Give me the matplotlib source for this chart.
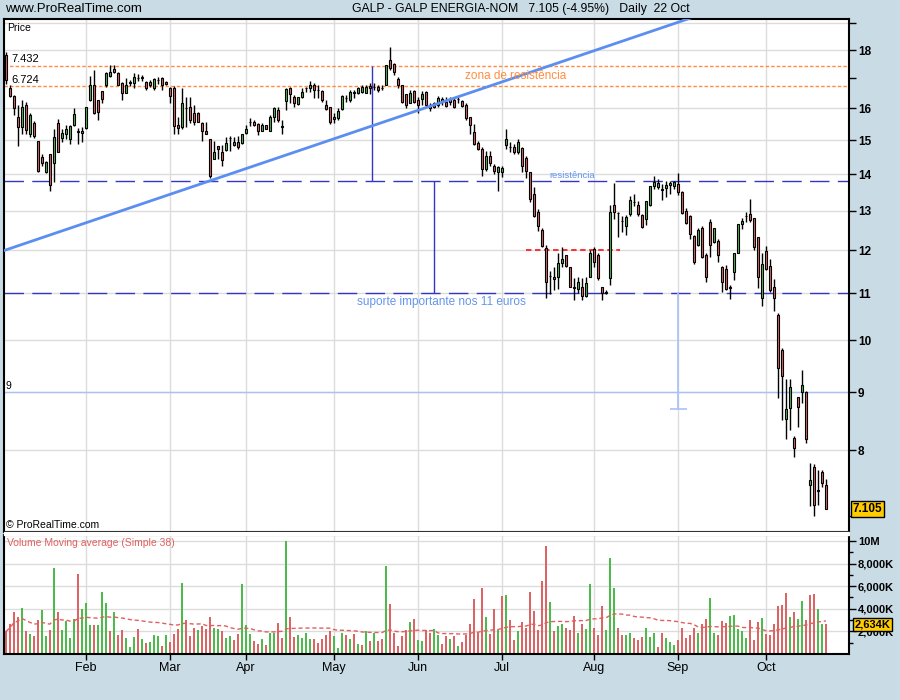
import matplotlib
matplotlib.use('Agg')
import matplotlib.pyplot as plt
import matplotlib.transforms as mtransforms
from matplotlib.ticker import NullLocator, NullFormatter
from matplotlib.patches import Rectangle
import numpy as np
import pandas as pd

plt.rcParams['font.family'] = ['Liberation Sans', 'DejaVu Sans']

# GALP - sessoes de 4 Jan a 22 Out 2008 (Euronext Lisboa)
dias = pd.bdate_range('2008-01-04', '2008-10-22', freq='C',
                      holidays=['2008-03-21', '2008-03-24', '2008-05-01'])

abertura = [
    17.82, 16.67, 16.40, 15.73, 15.39, 16.10, 15.18, 15.54, 14.97, 14.50,
    14.06, 14.58, 14.32, 15.54, 15.06, 15.18, 15.03, 15.48, 15.27, 15.21,
    15.36, 16.27, 16.77, 16.27, 16.57, 16.77, 17.07, 17.32, 17.18, 16.84,
    16.50, 16.84, 16.84, 17.01, 17.02, 16.87, 16.77, 16.67, 16.94, 17.01,
    16.87, 16.67, 16.67, 15.48, 15.39, 16.00, 16.04, 15.85, 15.85, 15.54,
    15.27, 15.03, 14.44, 14.82, 14.64, 14.70, 15.05, 14.85, 14.94, 14.91,
    15.21, 15.56, 15.57, 15.51, 15.27, 15.48, 15.27, 15.73, 15.95, 15.41,
    16.24, 16.67, 16.37, 16.14, 16.37, 16.66, 16.67, 16.77, 16.61, 16.57,
    16.11, 16.04, 15.73, 15.69, 15.98, 16.34, 16.27, 16.50, 16.50, 16.54,
    16.50, 16.74, 16.70, 16.70, 16.68, 16.77, 17.64, 17.50, 16.97, 16.77,
    16.47, 16.17, 16.57, 16.27, 16.31, 16.54, 16.11, 16.17, 16.11, 16.31,
    16.21, 16.31, 16.27, 16.30, 16.24, 16.11, 15.73, 15.24, 14.91, 14.73,
    14.15, 14.52, 14.23, 14.06, 14.07, 14.85, 14.79, 14.79, 14.64, 14.76,
    14.47, 14.06, 13.45, 12.96, 12.50, 12.05, 11.40, 11.37, 11.37, 11.69,
    11.88, 11.60, 11.13, 11.10, 11.14, 10.94, 11.37, 12.03, 11.88, 11.14,
    11.02, 11.35, 13.15, 12.94, 12.74, 12.60, 12.91, 13.23, 13.15, 12.88,
    12.78, 13.15, 13.67, 13.64, 13.58, 13.61, 13.69, 13.67, 13.72, 13.50,
    12.99, 12.86, 12.35, 12.13, 12.55, 11.88, 12.70, 12.20, 12.23, 11.60,
    11.55, 11.13, 11.48, 11.93, 12.65, 12.85, 12.91, 12.80, 12.32, 10.90,
    11.98, 11.62, 11.14, 10.52, 9.80, 8.53, 8.71, 8.21, 8.91, 9.00,
    9.00, 7.46, 7.74, 7.38, 7.65, 7.45]

maximo = [
    17.92, 16.77, 16.44, 16.11, 16.27, 16.20, 15.85, 15.60, 14.97, 14.58,
    14.38, 14.58, 15.33, 15.66, 15.33, 15.45, 15.45, 16.01, 15.36, 15.39,
    16.04, 17.07, 17.28, 16.27, 16.57, 17.21, 17.46, 17.46, 17.21, 16.87,
    17.01, 16.94, 17.18, 17.14, 17.11, 16.90, 16.94, 17.01, 17.04, 17.04,
    16.90, 16.70, 16.74, 15.73, 16.67, 16.37, 16.37, 16.11, 15.88, 15.57,
    15.57, 15.03, 14.97, 14.82, 14.85, 15.09, 15.12, 15.09, 15.12, 15.18,
    15.45, 15.69, 15.63, 15.54, 15.54, 15.48, 15.79, 16.04, 16.04, 15.63,
    16.67, 16.70, 16.44, 16.37, 16.67, 16.70, 16.90, 16.84, 16.77, 16.60,
    16.27, 16.04, 15.85, 16.01, 16.44, 16.44, 16.60, 16.60, 16.70, 16.77,
    16.77, 16.84, 16.84, 16.77, 16.77, 17.46, 18.11, 17.53, 17.04, 16.77,
    16.47, 16.60, 16.60, 16.37, 16.57, 16.57, 16.17, 16.21, 16.40, 16.37,
    16.37, 16.37, 16.34, 16.37, 16.27, 16.17, 15.73, 15.51, 14.97, 14.79,
    14.67, 14.67, 14.29, 14.23, 14.23, 15.33, 14.94, 14.88, 15.03, 14.79,
    14.52, 14.06, 13.64, 13.04, 12.55, 12.13, 11.51, 11.60, 11.93, 12.08,
    11.88, 11.60, 11.35, 11.37, 11.35, 11.37, 12.00, 12.08, 11.93, 11.14,
    11.08, 13.15, 13.75, 12.96, 12.86, 12.88, 13.39, 13.45, 13.26, 12.91,
    13.26, 13.67, 13.95, 13.86, 13.72, 13.81, 13.81, 13.81, 14.03, 13.53,
    13.07, 12.88, 12.37, 12.55, 12.60, 11.93, 12.78, 12.55, 12.28, 11.62,
    11.65, 11.19, 11.93, 12.65, 12.80, 12.96, 13.31, 12.80, 12.32, 11.93,
    12.10, 11.79, 11.32, 10.56, 9.84, 9.24, 9.24, 8.24, 8.91, 9.41,
    9.02, 7.79, 7.78, 7.69, 7.69, 7.55]

minimo = [
    16.80, 16.37, 15.79, 14.82, 15.18, 15.20, 15.10, 15.05, 14.06, 14.23,
    14.03, 13.53, 13.78, 14.64, 14.94, 15.03, 14.88, 15.42, 14.88, 14.94,
    15.33, 16.24, 15.82, 15.63, 16.17, 16.70, 17.04, 17.18, 16.77, 16.27,
    16.50, 16.74, 16.67, 16.90, 16.90, 16.60, 16.70, 16.60, 16.80, 16.60,
    16.77, 16.17, 15.18, 15.18, 15.33, 15.39, 15.54, 15.48, 15.57, 14.97,
    15.18, 13.89, 14.44, 14.44, 14.23, 14.67, 14.67, 14.82, 14.73, 14.88,
    15.18, 15.42, 15.42, 15.15, 15.27, 15.33, 15.27, 15.57, 15.57, 15.18,
    15.95, 16.17, 16.04, 16.11, 16.34, 16.54, 16.54, 16.34, 16.34, 16.21,
    15.95, 15.51, 15.54, 15.63, 15.95, 16.21, 16.21, 16.34, 16.47, 16.50,
    16.50, 16.47, 16.60, 16.54, 16.60, 16.77, 17.28, 17.11, 16.67, 16.17,
    16.01, 16.17, 16.17, 15.85, 16.11, 16.04, 15.91, 16.01, 16.04, 16.11,
    16.04, 16.11, 16.01, 16.17, 16.04, 15.63, 15.18, 14.85, 14.70, 13.95,
    14.09, 14.23, 14.00, 13.53, 13.92, 14.73, 14.64, 14.58, 14.58, 14.06,
    13.89, 13.23, 12.83, 12.47, 12.08, 10.90, 10.99, 11.08, 11.10, 11.60,
    11.60, 11.14, 10.84, 11.01, 10.84, 10.92, 11.37, 11.60, 11.30, 10.84,
    10.99, 11.19, 12.78, 12.32, 12.45, 12.38, 12.86, 13.12, 12.86, 12.55,
    12.62, 13.12, 13.58, 13.58, 13.28, 13.37, 13.45, 13.58, 13.42, 12.91,
    12.65, 12.28, 11.67, 12.10, 11.81, 11.26, 11.84, 12.18, 11.71, 11.03,
    11.08, 10.88, 11.30, 11.93, 12.52, 12.70, 12.70, 12.00, 11.12, 10.71,
    11.53, 11.03, 10.60, 8.89, 8.51, 8.19, 8.34, 7.89, 8.39, 8.80,
    8.12, 7.14, 7.01, 7.16, 7.43, 7.105]

fecho = [
    16.94, 16.40, 16.01, 15.39, 16.04, 15.30, 15.79, 15.12, 14.09, 14.32,
    14.35, 13.69, 15.09, 14.64, 15.21, 15.33, 15.42, 15.82, 15.24, 15.27,
    16.04, 16.77, 15.85, 15.88, 16.31, 17.18, 17.21, 17.21, 16.77, 16.50,
    16.77, 16.87, 17.04, 17.01, 17.04, 16.67, 16.87, 16.97, 16.95, 16.77,
    16.80, 16.40, 15.42, 15.36, 16.17, 16.01, 15.63, 15.57, 15.57, 15.27,
    15.18, 13.95, 14.64, 14.73, 14.41, 14.91, 15.06, 14.94, 14.79, 15.18,
    15.33, 15.57, 15.45, 15.27, 15.48, 15.33, 15.73, 16.01, 15.63, 15.42,
    16.64, 16.47, 16.17, 16.37, 16.54, 16.67, 16.77, 16.60, 16.60, 16.27,
    15.98, 15.57, 15.66, 15.91, 16.40, 16.35, 16.54, 16.54, 16.67, 16.70,
    16.70, 16.67, 16.71, 16.60, 16.67, 17.46, 17.36, 17.21, 16.77, 16.21,
    16.11, 16.50, 16.21, 16.11, 16.47, 16.11, 16.01, 16.04, 16.34, 16.21,
    16.08, 16.21, 16.04, 16.31, 16.08, 15.69, 15.45, 14.88, 14.73, 14.15,
    14.52, 14.32, 14.09, 14.21, 14.18, 15.03, 14.78, 14.64, 14.94, 14.23,
    14.09, 13.31, 12.86, 12.60, 12.10, 11.26, 11.39, 11.32, 11.69, 11.79,
    11.62, 11.14, 11.12, 11.26, 10.94, 11.23, 11.93, 11.71, 11.35, 11.01,
    11.01, 12.96, 12.96, 12.93, 12.73, 12.83, 13.28, 13.23, 12.91, 12.57,
    13.26, 13.67, 13.78, 13.75, 13.57, 13.69, 13.75, 13.78, 13.50, 12.93,
    12.67, 12.40, 11.71, 12.50, 11.84, 11.37, 12.13, 12.55, 11.88, 11.26,
    11.10, 11.12, 11.93, 12.65, 12.73, 12.86, 12.75, 12.08, 11.37, 11.67,
    11.55, 11.06, 10.90, 9.45, 9.30, 8.69, 9.09, 8.03, 8.73, 9.13,
    8.19, 7.53, 7.16, 7.37, 7.49, 7.105]

# volume em milhoes de accoes
volume = [
    2.0, 2.65, 3.7, 3.3, 4.1, 2.0, 1.8, 1.6, 3.0, 3.9,
    1.6, 2.1, 7.6, 3.7, 2.1, 2.9, 1.4, 3.1, 7.1, 4.0,
    4.5, 2.6, 2.6, 2.6, 5.5, 4.5, 2.0, 3.7, 1.7, 2.1,
    1.4, 0.6, 1.5, 2.2, 1.3, 1.0, 1.1, 1.7, 1.6, 0.7,
    1.7, 1.1, 1.8, 2.2, 6.3, 3.0, 1.6, 2.3, 2.1, 2.5,
    2.2, 3.3, 2.3, 2.2, 2.0, 1.4, 1.6, 1.2, 1.8, 6.2,
    2.6, 1.8, 1.15, 0.9, 1.3, 0.8, 1.9, 1.9, 2.7, 1.4,
    10.0, 3.3, 1.5, 1.7, 1.4, 1.9, 1.3, 1.3, 1.0, 1.3,
    1.7, 2.0, 1.6, 0.5, 1.9, 1.7, 1.3, 1.8, 0.9, 0.8,
    2.0, 1.15, 1.9, 1.15, 1.3, 7.8, 4.4, 1.9, 0.7, 1.6,
    2.1, 2.8, 3.1, 1.2, 1.15, 2.1, 1.9, 2.2, 1.7, 0.9,
    1.6, 1.3, 1.6, 0.7, 1.1, 1.7, 2.65, 4.9, 1.9, 5.8,
    3.3, 1.8, 4.0, 2.1, 5.1, 5.2, 3.0, 1.2, 2.0, 2.8,
    2.3, 5.5, 3.8, 2.1, 6.5, 9.55, 4.6, 2.0, 2.5, 2.65,
    2.3, 2.1, 3.4, 1.9, 2.65, 2.2, 6.2, 2.3, 1.7, 4.25,
    2.1, 8.5, 5.8, 2.3, 1.7, 1.7, 1.9, 1.4, 1.2, 1.5,
    2.3, 1.5, 1.85, 0.6, 1.9, 1.4, 1.1, 0.8, 1.2, 2.3,
    1.4, 1.7, 2.3, 1.9, 2.65, 3.1, 4.95, 1.85, 1.7, 2.9,
    2.75, 3.4, 3.45, 2.2, 2.0, 1.4, 3.0, 1.2, 2.8, 3.2,
    1.8, 1.7, 2.65, 4.25, 4.35, 5.4, 3.3, 3.7, 3.1, 4.7,
    3.0, 5.2, 5.3, 4.0, 2.65, 2.65]

# g = fecho acima do anterior, r = abaixo
cor_volume = ("rrrrgrgrrg" "grgrggggrg" "ggrgggrgrr" "gggrgrgggr" "grrrgrrrgr"
              "rrggrggrrg" "ggrrgrggrr" "grrggggrrr" "rrgggrgrgr" "grgrrgrrrr"
              "rgrggrrggr" "rgrgrrrrrr" "grrgrgrrgr" "rrrrrrgrgg" "rrrgrggrrr"
              "gggrrggrrr" "gggrrgggrr" "rrrgrrggrr" "rgggggrrrg" "rrrrrrgrgg"
              "rrrggr")

ultimo = 7.105
variacao = -4.95
vol_ultimo = 2.634
media_movel = 38

# linhas desenhadas no grafico
zona_resist = [17.432, 16.724]
resistencia = 13.8
suporte = 11.0
linha_9 = 9.0
alvo = 8.69
caixa_12 = 12.0
tendencia_x = [-0.25, 171]
tendencia_y = [12.0, 19.2]

fundo = '#c9dce5'
verde = '#4cbb4c'
vermelho = '#dc6464'
azul = '#3535c8'
azul_claro = '#6495ed'
laranja = '#ff8c40'
grelha = '#dcdcdc'

n = len(dias)
x = np.arange(n)
o = np.array(abertura)
h = np.array(maximo)
l = np.array(minimo)
c = np.array(fecho)
v = np.array(volume)

inicio_mes = [i for i in range(1, n) if dias[i].month != dias[i - 1].month]
nomes_mes = [dias[i].strftime('%b') for i in inicio_mes]

fig = plt.figure(figsize=(9, 7), dpi=100, facecolor=fundo)
ax = fig.add_axes([4 / 900, 168 / 700, 845 / 900, 513 / 700])
axv = fig.add_axes([4 / 900, 46 / 700, 845 / 900, 119 / 700], sharex=ax)
fig.patches.append(Rectangle((4 / 900, 165 / 700), 845 / 900, 3 / 700,
                             transform=fig.transFigure, color='white', zorder=0))

# ---- painel de precos ----
ax.set_yscale('log')
ax.set_ylim(6.78, 19.17)
ax.set_xlim(-0.5, 210.75)

for p in [8, 9, 10, 11, 12, 13, 14, 15, 16, 18, 19]:
    ax.axhline(p, color=grelha, lw=1, zorder=0)
for m in inicio_mes:
    ax.axvline(m, color=grelha, lw=1, zorder=0)
    axv.axvline(m, color=grelha, lw=1, zorder=0)

sobe = c >= o
ax.vlines(x, l, h, color='black', lw=1, zorder=3)
ax.bar(x, np.abs(c - o), bottom=np.minimum(o, c), width=0.72,
       color=np.where(sobe, verde, vermelho), edgecolor='black', lw=0.8, zorder=4)

for z in zona_resist:
    ax.axhline(z, color=laranja, lw=1, dashes=(2.5, 1.5), zorder=2)
ax.axhline(resistencia, color=azul, lw=1, dashes=(14, 6), zorder=2)
ax.axhline(suporte, color=azul, lw=1, dashes=(14, 6), zorder=2)
ax.axhline(linha_9, color='#a9c1f7', lw=1, zorder=2)
ax.plot(tendencia_x, tendencia_y, color='#5b8ef0', lw=2, zorder=5)
ax.vlines(91.4, resistencia, zona_resist[0], color=azul, lw=1, zorder=2)
ax.vlines(107.1, suporte, resistencia, color=azul, lw=1, zorder=2)
ax.vlines(168.1, alvo, suporte, color='#a9c1f7', lw=1.2, zorder=2)
ax.hlines(alvo, 166, 170.25, color='#a9c1f7', lw=1.2, zorder=2)
ax.hlines(caixa_12, 130, 153.5, color='#ff2020', lw=1.3, linestyles=(0, (3, 2)), zorder=2)

ax.text(114.75, 17.08, 'zona de resistência', color=laranja, fontsize=8.5,
        va='center', ha='left', zorder=6)
ax.text(135.75, 13.95, 'resistência', color=azul_claro, fontsize=6.8,
        va='center', ha='left', zorder=6)
ax.text(87.75, 10.81, 'suporte importante nos 11 euros', color=azul_claro,
        fontsize=8.5, va='center', ha='left', zorder=6)
ax.text(1.4, zona_resist[0] * 1.003, '7.432', fontsize=8, va='bottom', ha='left', zorder=1)
ax.text(1.4, zona_resist[1] * 1.003, '6.724', fontsize=8, va='bottom', ha='left', zorder=1)
ax.text(0.0, linha_9 * 1.003, '9', fontsize=7.5, va='bottom', ha='left', zorder=6)
ax.text(0.004, 0.993, 'Price', transform=ax.transAxes, fontsize=7.5, va='top', ha='left')
ax.text(0.002, 0.004, '© ProRealTime.com', transform=ax.transAxes, fontsize=7.5,
        va='bottom', ha='left', zorder=6)

ax.yaxis.tick_right()
ax.set_yticks([7, 8, 9, 10, 11, 12, 13, 14, 15, 16, 17, 18, 19])
ax.set_yticklabels(['', '8', '9', '10', '11', '12', '13', '14', '15', '16', '', '18', ''])
ax.yaxis.set_minor_locator(NullLocator())
ax.yaxis.set_minor_formatter(NullFormatter())
ax.tick_params(axis='y', direction='out', length=5, width=1, pad=1.5, labelsize=8.5)
ax.tick_params(axis='x', bottom=False, labelbottom=False)
for t in ax.get_yticklabels():
    t.set_fontweight('bold')

lado = mtransforms.blended_transform_factory(ax.transAxes, ax.transData)
ax.text(1.0045, ultimo, f'{ultimo:.3f}', transform=lado, fontsize=8.5, fontweight='bold',
        va='center', ha='left', clip_on=False, zorder=10,
        bbox=dict(boxstyle='square,pad=0.15', fc='#ffcc00', ec='black', lw=1))

# ---- painel de volume ----
axv.bar(x, v, width=0.5, color=[verde if k == 'g' else vermelho for k in cor_volume],
        lw=0, zorder=2)
mm = pd.Series(v).rolling(media_movel, min_periods=1).mean()
axv.plot(x, mm, color='#e06060', lw=1, dashes=(3, 2), zorder=3)
axv.set_ylim(0, 10.53)
for q in [2, 4, 6, 8, 10]:
    axv.axhline(q, color=grelha, lw=1, zorder=0)
axv.yaxis.tick_right()
axv.set_yticks([2, 4, 6, 8, 10])
axv.set_yticklabels(['2,000K', '4,000K', '6,000K', '8,000K', '10M'])
axv.set_yticks([1, 3, 5, 7, 9], minor=True)
axv.tick_params(axis='y', which='major', direction='out', length=5, width=1, pad=1.5, labelsize=8)
axv.tick_params(axis='y', which='minor', direction='out', length=3, width=1)
for t in axv.get_yticklabels():
    t.set_fontweight('bold')
axv.set_xticks(inicio_mes)
axv.set_xticklabels(nomes_mes)
axv.tick_params(axis='x', direction='out', length=4, width=1, pad=2, labelsize=9)
axv.text(0.004, 0.975, f'Volume Moving average (Simple {media_movel})', transform=axv.transAxes,
         color='#e06060', fontsize=7.5, va='top', ha='left')
lado_v = mtransforms.blended_transform_factory(axv.transAxes, axv.transData)
axv.text(1.0065, vol_ultimo, f'{vol_ultimo * 1000:,.0f}K', transform=lado_v, fontsize=8,
         fontweight='bold', va='center', ha='left', clip_on=False, zorder=10,
         bbox=dict(boxstyle='square,pad=0.15', fc='#ffcc00', ec='black', lw=1))

for a in (ax, axv):
    a.set_facecolor('white')
    for s in a.spines.values():
        s.set_color('black')
        s.set_linewidth(1.5)

fig.text(5 / 900, 1 - 9 / 700, 'www.ProRealTime.com', fontsize=9.5, va='center', ha='left')
fig.text(352 / 900, 1 - 9 / 700,
         f'GALP - GALP ENERGIA-NOM   {ultimo:.3f} ({variacao:.2f}%)   Daily  22 Oct',
         fontsize=8.8, va='center', ha='left')

fig.savefig('out.png', dpi=100, facecolor=fig.get_facecolor())
